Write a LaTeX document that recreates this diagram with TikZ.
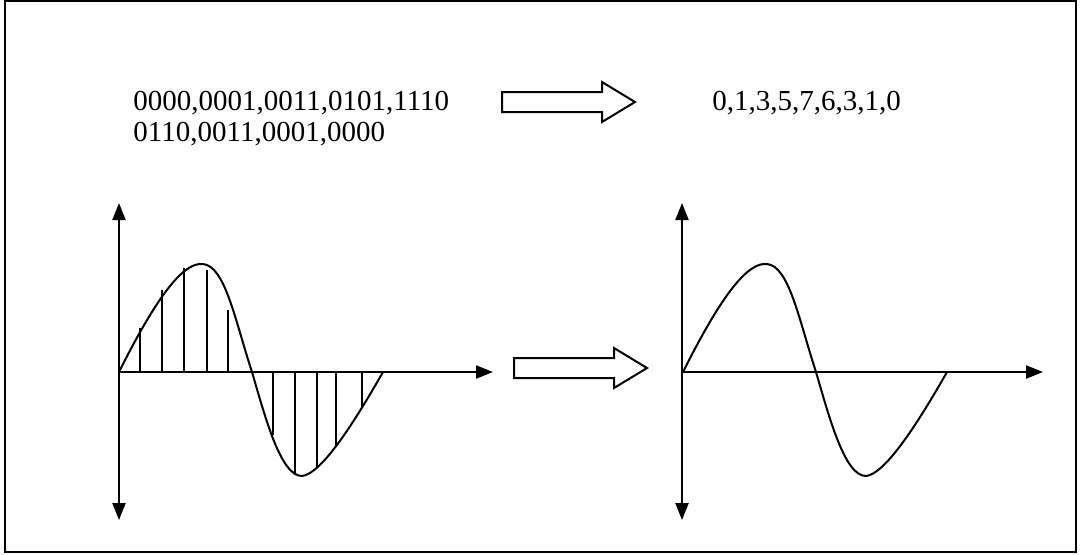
\documentclass[tikz,border=0pt]{standalone}
\usepackage{fontspec}
\setmainfont{Liberation Serif}
\usetikzlibrary{arrows.meta}
\tikzstyle{codes}    = [anchor=base west, inner sep=0pt, align=left,
                         font=\fontsize{14.5}{15.5}\selectfont]
\tikzstyle{axisline} = [line width=1.1pt]
\tikzstyle{tip}      = [-{Triangle[length=8.5pt,width=6.5pt]}]
\tikzstyle{twotips}  = [{Triangle[length=8.5pt,width=6.5pt]}-{Triangle[length=8.5pt,width=6.5pt]}]
\tikzstyle{wave}     = [line width=1pt]
\tikzstyle{sample}   = [line width=0.8pt]
\tikzstyle{fat}      = [line width=1pt, fill=white]
% one period of the signal, origin at (0,0), 1 unit = 1 px
\newcommand{\wavepath}{(0,0) .. controls (41,-82) and (66,-110) .. (84,-108)
  .. controls (106,-106) and (116,-52) .. (133,0)
  .. controls (147,48) and (162,104) .. (183,104)
  .. controls (201,102) and (231,58) .. (264,0)}
\tikzset{
  fatarrow/.pic={
    \draw[fat] (0,-10) -- (100,-10) -- (100,-20) -- (133,0) -- (100,20)
      -- (100,10) -- (0,10) -- cycle;
  }
}

\begin{document}
\begin{tikzpicture}[x=0.5pt, y=-0.5pt]
  \useasboundingbox (0,0) rectangle (1080,554);
  \draw[line width=1pt] (5,1) rectangle (1076,552);

  % binary codes -> decimal levels (base = last line)
  \node[codes] (bits) at (133,141) {0000,0001,0011,0101,1110\\0110,0011,0001,0000};
  \node[codes] (levels) at (712,110) {0,1,3,5,7,6,3,1,0};
  \pic at (502,102) {fatarrow};

  % sampled signal
  \coordinate (o1) at (119,372);
  \coordinate (ytop1) at (119,203);
  \coordinate (ybot1) at (119,520);
  \coordinate (xend1) at (493,372);
  \draw[axisline, twotips] (ytop1) -- (ybot1);
  \draw[axisline, tip] (o1) -- (xend1);
  \draw[wave, shift={(119,372)}] \wavepath;
  \foreach \x/\y in {140/328, 162/290, 184/268, 207/270, 228/310,
                     273/435, 295/475, 317/468, 336/447, 362/408}
    \draw[sample] (\x,372) -- (\x,\y);

  \pic at (514,368) {fatarrow};

  % recovered signal
  \coordinate (o2) at (682,372);
  \coordinate (ytop2) at (682,203);
  \coordinate (ybot2) at (682,520);
  \coordinate (xend2) at (1043,372);
  \draw[axisline, twotips] (ytop2) -- (ybot2);
  \draw[axisline, tip] (o2) -- (xend2);
  \draw[wave, shift={(683,372)}] \wavepath;

\end{tikzpicture}
\end{document}
